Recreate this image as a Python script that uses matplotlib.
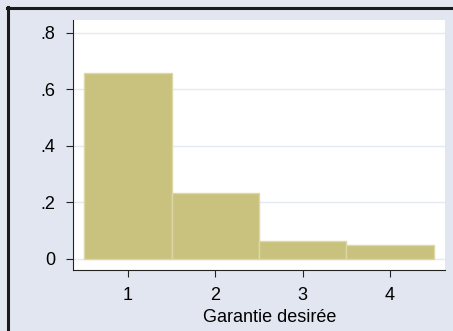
import matplotlib
matplotlib.use("Agg")
import matplotlib.pyplot as plt
from matplotlib.lines import Line2D

# Histogram of desired guarantee (density per category)
categories = [1, 2, 3, 4]
density = [0.657, 0.232, 0.063, 0.048]
ytick_vals = [0, 0.2, 0.4, 0.6, 0.8]
ytick_labels = ["0", ".2", ".4", ".6", ".8"]
xlabel = "Garantie desirée"

plt.rcParams["font.family"] = ["Liberation Sans", "DejaVu Sans"]

bg = "#E1E6F0"
bar_color = "#C9C27E"
bar_edge = "#DCD7A4"
grid_color = "#E4E9F2"

fig = plt.figure(figsize=(4.53, 3.31), dpi=100, facecolor=bg)
ax = fig.add_axes([73 / 453, 1 - 270 / 331, 372 / 453, 250 / 331])
ax.set_facecolor("white")

ax.bar(categories, density, width=1.0, color=bar_color, edgecolor=bar_edge,
       linewidth=1.0, zorder=2)

ax.set_xlim(0.37, 4.63)
ax.set_ylim(-0.039, 0.846)

ax.set_yticks(ytick_vals)
ax.set_yticklabels(ytick_labels)
ax.set_xticks(categories)
ax.set_xticklabels([str(c) for c in categories])

ax.yaxis.grid(True, color=grid_color, linewidth=1.0, zorder=0)
ax.set_axisbelow(True)

for s in ("top", "right"):
    ax.spines[s].set_visible(False)
for s in ("left", "bottom"):
    ax.spines[s].set_color("#222222")
    ax.spines[s].set_linewidth(0.8)

ax.tick_params(axis="both", direction="out", length=5, width=0.8,
               colors="#222222", labelcolor="black", labelsize=13)
ax.tick_params(axis="y", pad=8)
ax.tick_params(axis="x", pad=7)

ax.set_xlabel(xlabel, fontsize=13, color="black")
ax.xaxis.set_label_coords(0.53, -0.192)
ax.xaxis.label.set_va("center")

# Frame lines along the top and left edges of the figure
fig.add_artist(Line2D([7 / 453, 1.0], [1 - 8 / 331, 1 - 8 / 331],
                      transform=fig.transFigure, color="#1a1a1a", linewidth=2.2))
fig.add_artist(Line2D([8 / 453, 8 / 453], [0.0, 1 - 7 / 331],
                      transform=fig.transFigure, color="#1a1a1a", linewidth=2.2))

fig.savefig("out.png", dpi=100, facecolor=bg)
